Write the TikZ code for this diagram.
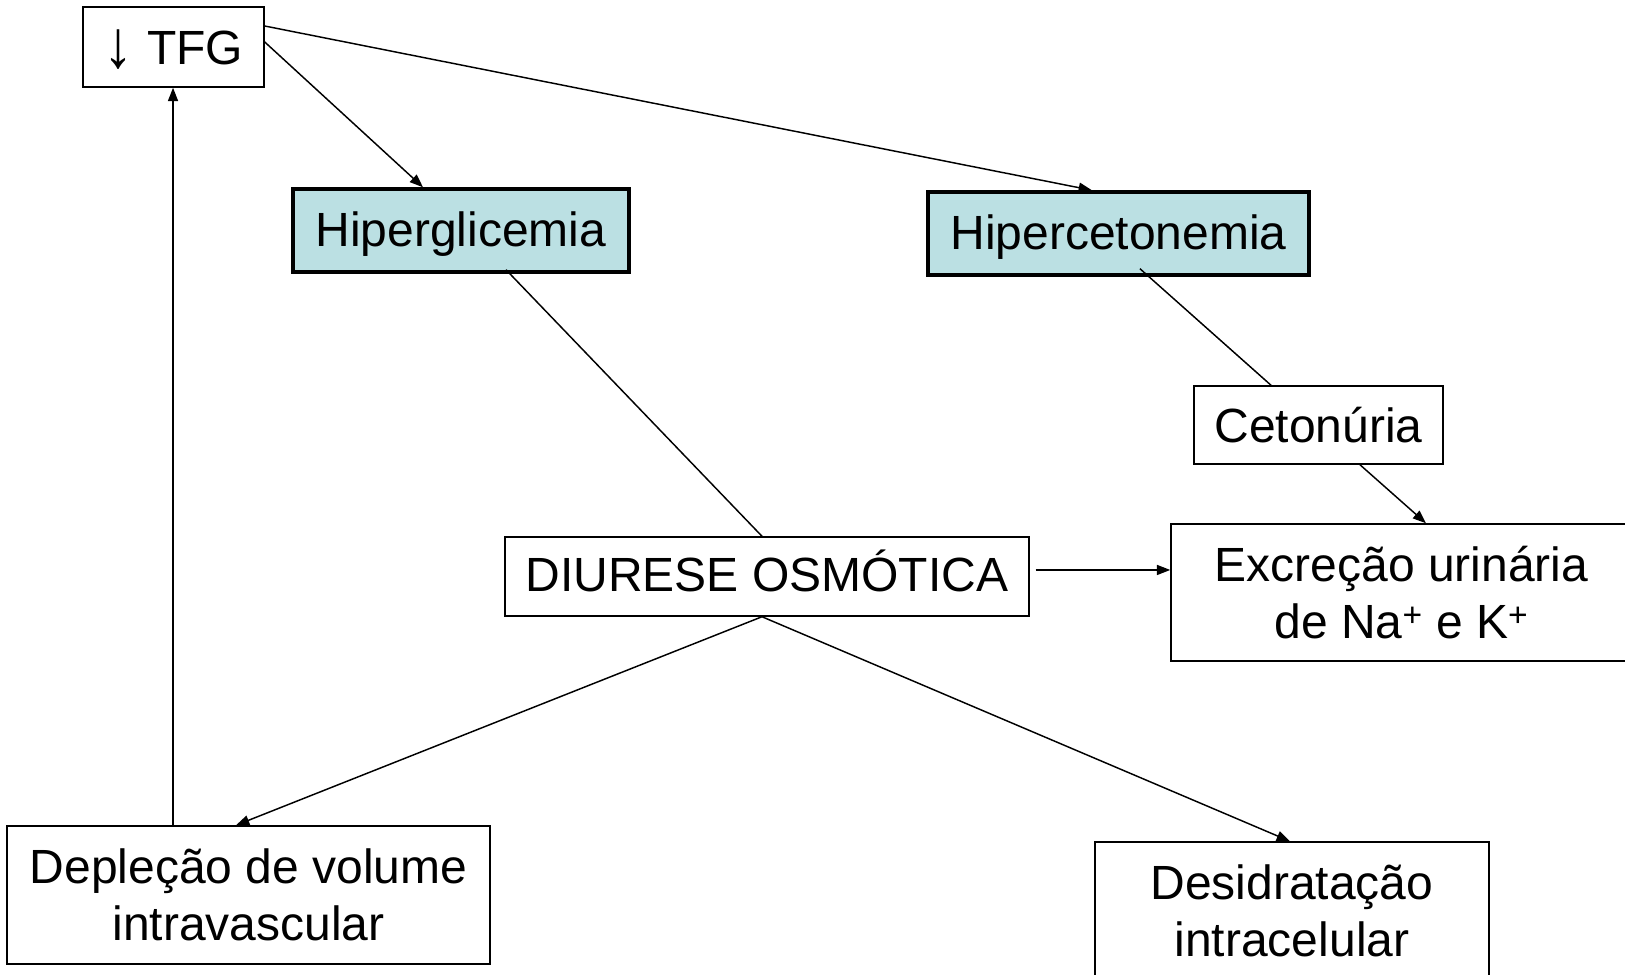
\documentclass[tikz,border=0pt]{standalone}
\usepackage{fontspec}
\setmainfont{Liberation Sans}
\usetikzlibrary{arrows.meta,calc}
\definecolor{hiperfill}{RGB}{187,224,227}
\begin{document}
\begin{tikzpicture}[x=0.75pt,y=-0.75pt,
  box/.style={draw=black,line width=1.1pt,inner sep=0pt,align=center,
    font=\fontsize{36}{43}\selectfont},
  keybox/.style={box,fill=hiperfill,line width=2.6pt,text height=32pt,text depth=7.6pt},
  conn/.style={line width=1.1pt},
  arr/.style={conn,-{Triangle[length=10pt,width=7.5pt]}}]
\useasboundingbox (0,0) rectangle (1625,975);

% boxes
\node[box,minimum width=135.75pt,minimum height=60pt,text height=28pt,text depth=2pt] (tfg) at (173.5,47) {\raisebox{-2pt}{\scalebox{1.25}[1.4]{↓}} TFG};
\node[keybox,minimum width=252pt,minimum height=62.25pt] (hgl) at (461,230.5) {Hiperglicemia};
\node[keybox,minimum width=285.75pt,minimum height=62.25pt] (hct) at (1118.5,233.5) {Hipercetonemia};
\node[box,minimum width=186.75pt,minimum height=58.5pt] (cet) at (1318.5,425) {Cetonúria};
\node[box,minimum width=345.75pt,minimum height=102.75pt] (exc) at (1401.5,592.5) {Excreção urinária\\de Na\textsuperscript{+} e K\textsuperscript{+}};
\node[box,minimum width=393pt,minimum height=59.25pt,text height=27pt,text depth=5pt] (diu) at (767,576.5) {DIURESE OSMÓTICA};
\node[box,minimum width=362.25pt,minimum height=103.5pt] (dep) at (248.5,895) {Depleção de volume\\intravascular};
\node[box,minimum width=295.5pt,minimum height=103.5pt] (des) at (1292,911) {Desidratação\\intracelular};

% connectors
\draw[arr] ([yshift=3.75pt]tfg.east) -- ([xshift=-28.5pt]hgl.north);
\draw[arr] ([yshift=15.75pt]tfg.east) -- ([xshift=-19.9pt]hct.north);
\draw[conn] ([xshift=33.75pt,yshift=3pt]hgl.south) -- ([xshift=-3.75pt]diu.north);
\draw[conn] ([xshift=16.1pt,yshift=6pt]hct.south) -- ([xshift=-35.6pt]cet.north);
\draw[arr] ([xshift=31.1pt]cet.south) -- ([xshift=18.4pt]exc.north);
\coordinate (diuout) at ([xshift=4.5pt,yshift=4.9pt]diu.east);
\draw[arr] (diuout) -- (diuout -| exc.west);
\draw[arr] ([xshift=-3.75pt]diu.south) -- ([xshift=-9.4pt]dep.north);
\draw[arr] ([xshift=-3.75pt]diu.south) -- ([xshift=-1.5pt]des.north);
\draw[arr] ([xshift=-56.6pt]dep.north) -- ([xshift=-56.6pt]dep.north |- tfg.south);
\end{tikzpicture}
\end{document}
